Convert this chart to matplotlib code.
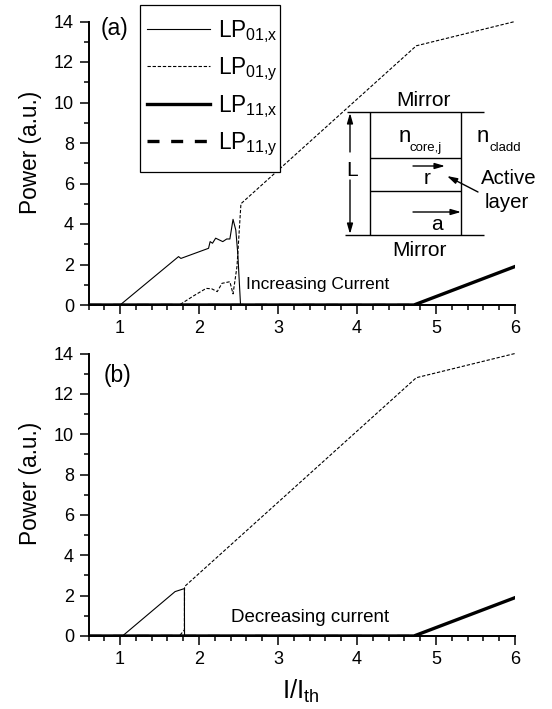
import matplotlib
matplotlib.use("Agg")
import matplotlib.pyplot as plt
from matplotlib.ticker import MultipleLocator
from matplotlib.patches import Rectangle

plt.rcParams['font.family'] = ['Liberation Sans', 'DejaVu Sans']
plt.rcParams['mathtext.fontset'] = 'custom'
plt.rcParams['mathtext.rm'] = 'Liberation Sans'
plt.rcParams['mathtext.it'] = 'Liberation Sans'
plt.rcParams['mathtext.bf'] = 'Liberation Sans'
plt.rcParams['mathtext.default'] = 'regular'

# Panel (a): increasing current
a_x01_x = [0.6, 1.0, 1.74, 1.77, 2.12, 2.14, 2.17, 2.21, 2.30, 2.35, 2.39, 2.43, 2.465, 2.49, 2.525, 6.0]
a_x01_y = [0.0, 0.0, 2.39, 2.30, 2.80, 3.13, 3.05, 3.30, 3.13, 3.26, 3.26, 4.23, 3.70, 2.55, 0.0, 0.0]
a_y01_x = [0.6, 1.75, 1.93, 2.09, 2.16, 2.23, 2.29, 2.39, 2.43, 2.48, 2.53, 4.75, 6.0]
a_y01_y = [0.0, 0.0, 0.45, 0.82, 0.80, 0.66, 1.07, 1.15, 0.55, 1.90, 5.00, 12.8, 14.0]
a_x11_x = [0.6, 4.72, 6.0]
a_x11_y = [0.0, 0.0, 1.9]
a_y11_x = [0.6, 4.72]
a_y11_y = [0.0, 0.0]

# Panel (b): decreasing current
b_x01_x = [0.6, 1.03, 1.696, 1.814, 1.816, 6.0]
b_x01_y = [0.0, 0.0, 2.2, 2.35, 0.0, 0.0]
b_y01_x = [0.6, 1.75, 1.814, 1.816, 4.75, 6.0]
b_y01_y = [0.0, 0.0, 0.3, 2.45, 12.8, 14.0]
b_x11_x = [0.6, 4.72, 6.0]
b_x11_y = [0.0, 0.0, 1.9]
b_y11_x = [0.6, 4.72]
b_y11_y = [0.0, 0.0]

W, H = 552, 709
fig = plt.figure(figsize=(W / 100, H / 100), dpi=100)

def axes_px(l, t, r, b):
    return fig.add_axes([l / W, 1 - b / H, (r - l) / W, (b - t) / H])

ax1 = axes_px(88.5, 21.5, 515, 305)
ax2 = axes_px(88.5, 353.5, 515, 636)

S1 = dict(color='black', lw=0.8)
S2 = dict(color='black', lw=0.8, dashes=(3, 1.6))
S3 = dict(color='black', lw=2.4)
S4 = dict(color='black', lw=2.4, dashes=(3.6, 3.5))

for ax, d in ((ax1, (a_x01_x, a_x01_y, a_y01_x, a_y01_y, a_x11_x, a_x11_y, a_y11_x, a_y11_y)),
              (ax2, (b_x01_x, b_x01_y, b_y01_x, b_y01_y, b_x11_x, b_x11_y, b_y11_x, b_y11_y))):
    ax.plot(d[0], d[1], label='LP$_{01{,}x}$', clip_on=False, **S1)
    ax.plot(d[2], d[3], label='LP$_{01{,}y}$', clip_on=False, **S2)
    ax.plot(d[4], d[5], label='LP$_{11{,}x}$', **S3)
    ax.plot(d[6], d[7], label='LP$_{11{,}y}$', **S4)
    ax.set_xlim(0.6, 6.0)
    ax.set_ylim(0, 14)
    ax.xaxis.set_major_locator(MultipleLocator(1))
    ax.xaxis.set_minor_locator(MultipleLocator(0.2))
    ax.yaxis.set_major_locator(MultipleLocator(2))
    ax.yaxis.set_minor_locator(MultipleLocator(1))
    ax.spines['top'].set_visible(False)
    ax.spines['right'].set_visible(False)
    ax.spines['left'].set_linewidth(1.4)
    ax.spines['bottom'].set_linewidth(1.4)
    ax.tick_params(which='major', direction='out', length=6.5, width=1.1, labelsize=13, pad=4)
    ax.tick_params(which='minor', direction='out', length=3.4, width=1.1)
    ax.patch.set_alpha(0)
    ax.set_ylabel('Power (a.u.)', fontsize=16.3, va='center')
    ax.yaxis.set_label_coords(-0.137, 0.54)

ax2.set_xlabel('I/I$_{th}$', fontsize=18.5, va='center')
ax2.xaxis.set_label_coords(0.498, -0.195)

ax1.text(0.755, 13.63, '(a)', fontsize=16.5, va='center')
ax2.text(0.796, 12.93, '(b)', fontsize=16.5, va='center')
ax1.text(3.5, 1.0, 'Increasing Current', fontsize=12.5, ha='center', va='center')
ax2.text(3.4, 0.9, 'Decreasing current', fontsize=13.5, ha='center', va='center')

# Overlay in pixel coordinates: legend box and inset schematic
ov = fig.add_axes([0, 0, 1, 1])
ov.set_xlim(0, W)
ov.set_ylim(H, 0)
ov.axis('off')
ov.patch.set_alpha(0)

ov.add_patch(Rectangle((140, 4.5), 140, 167.5, facecolor='white', edgecolor='black', lw=0.9, zorder=5))
handles, labels = ax1.get_legend_handles_labels()
leg = ov.legend(handles, labels, loc='upper left', bbox_to_anchor=(147 / W, 1 - 18 / H),
                bbox_transform=fig.transFigure, fontsize=16.3, frameon=False, borderaxespad=0,
                borderpad=0, labelspacing=0.47, handlelength=2.78, handletextpad=0.36)
leg.set_zorder(10)

def seg(x0, y0, x1, y1, lw=1.0):
    ov.plot([x0, x1], [y0, y1], color='black', lw=lw, solid_capstyle='butt')

seg(347, 112.3, 484, 112.3)
seg(345, 234.7, 484, 234.7)
seg(370, 112.3, 370, 234.7)
seg(461, 112.3, 461, 234.7)
seg(370, 157.7, 461, 157.7)
seg(370, 190.7, 461, 190.7)

def arrow(x0, y0, x1, y1, ms=11):
    ov.annotate('', xy=(x1, y1), xytext=(x0, y0),
                arrowprops=dict(arrowstyle='-|>,head_length=0.55,head_width=0.16', color='black',
                                lw=1.0, mutation_scale=ms, shrinkA=0, shrinkB=0))

arrow(350, 152, 350, 113)
arrow(350, 180, 350, 234)
arrow(413, 166, 445, 166)
arrow(413, 212, 461, 212)
arrow(478, 192, 447, 176)

def lab(x, y, s, fs=14.7, ha='center'):
    ov.text(x, y, s, fontsize=fs, ha=ha, va='center')

lab(423, 100, 'Mirror', 15)
lab(419, 250, 'Mirror', 15)
lab(352, 170, 'L', 15)
lab(399, 136, 'n', 16, ha='left')
lab(409, 148, 'core,j', 9.5, ha='left')
lab(477, 136, 'n', 16, ha='left')
lab(489, 148, 'cladd', 9.5, ha='left')
lab(427, 179, 'r', 15)
lab(437, 225, 'a', 15)
lab(509, 179, 'Active')
lab(507, 203, 'layer')

fig.savefig('out.png', dpi=100)
